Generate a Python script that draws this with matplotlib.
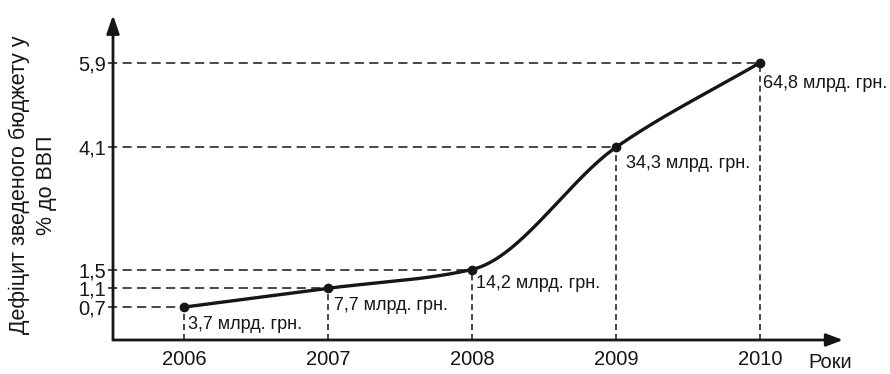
import numpy as np
import matplotlib
matplotlib.use("Agg")
import matplotlib.pyplot as plt

years = [2006, 2007, 2008, 2009, 2010]
deficit_pct = [0.7, 1.1, 1.5, 4.1, 5.9]
deficit_labels = ["3,7 млрд. грн.", "7,7 млрд. грн.", "14,2 млрд. грн.",
                  "34,3 млрд. грн.", "64,8 млрд. грн."]
ytick_labels = ["0,7", "1,1", "1,5", "4,1", "5,9"]
ylabel_text = "Дефіцит зведеного бюджету у\n% до ВВП"
xlabel_text = "Роки"

plt.rcParams['font.family'] = ['Liberation Sans', 'DejaVu Sans']
INK = "#161616"


def pchip(x, y, n=60):
    x = np.asarray(x, float)
    y = np.asarray(y, float)
    h = np.diff(x)
    d = np.diff(y) / h
    m = np.zeros_like(y)
    m[0], m[-1] = d[0], d[-1]
    for i in range(1, len(y) - 1):
        if d[i - 1] * d[i] > 0:
            m[i] = 2 * d[i - 1] * d[i] / (d[i - 1] + d[i])
    xs, ys = [], []
    for i in range(len(h)):
        t = np.linspace(0, 1, n)
        h00 = 2 * t**3 - 3 * t**2 + 1
        h10 = t**3 - 2 * t**2 + t
        h01 = -2 * t**3 + 3 * t**2
        h11 = t**3 - t**2
        xs.append(x[i] + t * h[i])
        ys.append(h00 * y[i] + h10 * h[i] * m[i] + h01 * y[i + 1] + h11 * h[i] * m[i + 1])
    return np.concatenate(xs), np.concatenate(ys)


fig = plt.figure(figsize=(8.9, 3.74), dpi=100)
ax = fig.add_axes([113 / 890, 34 / 374, (843 - 113) / 890, (340 - 15) / 374])
x0 = 2006 - (184 - 113) / 144
x1 = 2006 + (843 - 184) / 144
ax.set_xlim(x0, x1)
ax.set_ylim(0, (340 - 15) / 47)
for s in ax.spines.values():
    s.set_visible(False)

# guide lines
for xv, yv in zip(years, deficit_pct):
    ax.plot([x0 - 5 / 144, xv], [yv, yv], color=INK, lw=1.1, ls=(0, (6, 3.5)),
            clip_on=False)
    ax.plot([xv, xv], [0, yv], color=INK, lw=1.1, ls=(0, (4, 2.5)))

# axes with arrows
ax.annotate("", xy=(1, 0), xytext=(0, 0), xycoords="axes fraction",
            arrowprops=dict(arrowstyle="-|>,head_length=1.0,head_width=0.38",
                            lw=2.0, color=INK, shrinkA=0, shrinkB=0))
ax.annotate("", xy=(0, 1), xytext=(0, 0), xycoords="axes fraction",
            arrowprops=dict(arrowstyle="-|>,head_length=1.1,head_width=0.38",
                            lw=2.0, color=INK, shrinkA=0, shrinkB=0))

xs, ys = pchip(years, deficit_pct)
ax.plot(xs, ys, color=INK, lw=2.4, solid_capstyle="round")
ax.plot(years, deficit_pct, "o", color=INK, ms=6)

offsets = [(4, -17), (6, -17), (4, -14), (10, -16), (3, -21)]
for xv, yv, lab, off in zip(years, deficit_pct, deficit_labels, offsets):
    ax.annotate(lab, (xv, yv), xytext=off, textcoords="offset pixels",
                ha="left", va="center", fontsize=13, color=INK)

ax.set_yticks(deficit_pct)
ax.set_yticklabels(ytick_labels)
ax.set_xticks(years)
ax.set_xticklabels([str(y) for y in years])
ax.tick_params(axis="y", length=0, pad=5, labelsize=14.5, labelcolor=INK)
ax.tick_params(axis="x", length=0, pad=7, labelsize=14.5, labelcolor=INK)

ax.annotate(xlabel_text, xy=(2010.49, 0), xycoords="data", xytext=(0, -23),
            textcoords="offset pixels", ha="center", va="center",
            fontsize=14.5, color=INK, annotation_clip=False)

fig.text(33 / 890, (374 - 185) / 374, ylabel_text, rotation=90, ha="center",
         va="center", multialignment="center", fontsize=15.5, color=INK,
         linespacing=1.4)

fig.savefig("out.png", dpi=100, facecolor="white")
